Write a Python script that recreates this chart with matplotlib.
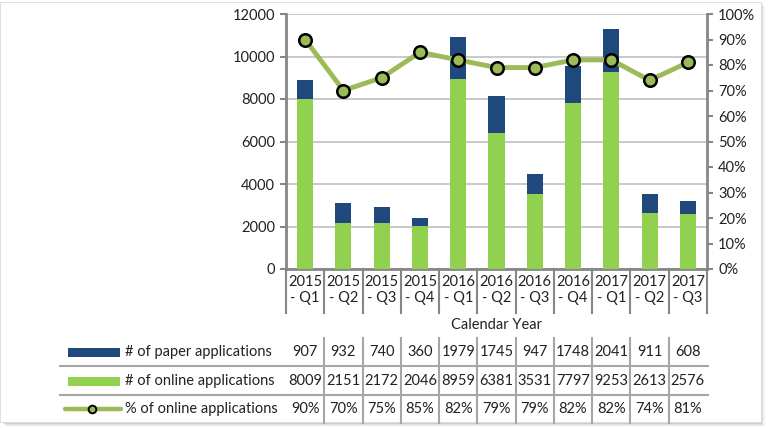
import matplotlib
matplotlib.use("Agg")
import matplotlib.pyplot as plt
import matplotlib.transforms as mtrans
from matplotlib.lines import Line2D
from matplotlib.patches import Rectangle

plt.rcParams['font.family'] = ['Lato', 'DejaVu Sans']

categories = ["2015\n- Q1", "2015\n- Q2", "2015\n- Q3", "2015\n- Q4",
              "2016\n- Q1", "2016\n- Q2", "2016\n- Q3", "2016\n- Q4",
              "2017\n- Q1", "2017\n- Q2", "2017\n- Q3"]
paper = [907, 932, 740, 360, 1979, 1745, 947, 1748, 2041, 911, 608]
online = [8009, 2151, 2172, 2046, 8959, 6381, 3531, 7797, 9253, 2613, 2576]
pct = [90, 70, 75, 85, 82, 79, 79, 82, 82, 74, 81]

W, H = 772, 428
fig = plt.figure(figsize=(W / 100, H / 100), dpi=100)

def fx(px):
    return px / W

def fy(py):
    return 1 - py / H

# frame with shadow
for i, a in enumerate([0.05, 0.08, 0.12, 0.18]):
    off = 4 - i
    fig.patches.append(Rectangle((fx(2 + off), fy(423 + off)), fx(761 - 2), fy(2) - fy(423),
                                 transform=fig.transFigure, facecolor='#808080', alpha=a,
                                 edgecolor='none', zorder=0))
fig.patches.append(Rectangle((fx(0), fy(422)), fx(761), fy(2) - fy(422),
                             transform=fig.transFigure, facecolor='white',
                             edgecolor='#d9d9d9', linewidth=0.6, zorder=0.5))

L, R, T, B = 286, 707, 14, 269
ax = fig.add_axes([fx(L), fy(B), fx(R) - fx(L), fy(T) - fy(B)])
ax.set_zorder(2)
ax.patch.set_alpha(0)

c_paper = '#1F497D'
c_online = '#92D050'
c_line = '#9BBB59'
x = list(range(len(categories)))

ax.bar(x, online, width=0.42, color=c_online, zorder=3)
ax.bar(x, paper, bottom=online, width=0.42, color=c_paper, zorder=3)
ax.set_ylim(0, 12000)
ax.set_xlim(-0.5, len(categories) - 0.5)
ax.set_yticks(range(0, 12001, 2000))
ax.yaxis.grid(True, color='#c0c0c0', linewidth=1.2, zorder=0)
ax.set_axisbelow(True)
for s in ['top', 'right']:
    ax.spines[s].set_visible(False)
for s in ['left', 'bottom']:
    ax.spines[s].set_color('#868686')
    ax.spines[s].set_linewidth(2)
ax.tick_params(axis='y', length=4, width=1.5, color='#868686', labelsize=10.5, pad=4, labelcolor='#222222')
ax.set_xticks(x)
ax.set_xticklabels(categories, fontsize=10.5, linespacing=1.25, color='#222222')
ax.tick_params(axis='x', length=0, pad=4)

ax2 = ax.twinx()
ax2.set_ylim(0, 100)
ax2.set_yticks(range(0, 101, 10))
ax2.set_yticklabels([f"{v}%" for v in range(0, 101, 10)])
for s in ['top', 'left', 'bottom']:
    ax2.spines[s].set_visible(False)
ax2.spines['right'].set_color('#868686')
ax2.spines['right'].set_linewidth(2)
ax2.tick_params(axis='y', length=4, width=1.5, color='#868686', labelsize=10.5, pad=4, labelcolor='#222222')
ax2.plot(x, pct, color=c_line, linewidth=3.5, marker='o', markersize=9,
         markerfacecolor=c_line, markeredgecolor='black', markeredgewidth=1.8, zorder=5)

# category separators under x axis and in table
bt = mtrans.blended_transform_factory(ax.transData, fig.transFigure)
n = len(categories)
for i in range(n + 1):
    xx = i - 0.5
    fig.lines.append(Line2D([xx, xx], [fy(B), fy(313)], transform=bt, color='#868686', linewidth=1.5))
    if 0 < i < n:
        fig.lines.append(Line2D([xx, xx], [fy(338), fy(423)], transform=bt, color='#a6a6a6', linewidth=1.5))

fig.text(fx((L + R) / 2), fy(325), "Calendar Year", ha='center', va='center', fontsize=10.5, color='#222222')

# data table
rows_y = [352, 381, 409]
for ypix in [366, 395]:
    fig.lines.append(Line2D([fx(60), fx(R + 1)], [fy(ypix), fy(ypix)], transform=fig.transFigure,
                            color='#a6a6a6', linewidth=1.5))

labels = ["# of paper applications", "# of online applications", "% of online applications"]
row_vals = [[str(v) for v in paper], [str(v) for v in online], [f"{v}%" for v in pct]]
for r, (lab, vals) in enumerate(zip(labels, row_vals)):
    yy = fy(rows_y[r])
    if r < 2:
        col = c_paper if r == 0 else c_online
        fig.patches.append(Rectangle((fx(68), yy - 4.5 / H), fx(120) - fx(68), 9 / H,
                                     transform=fig.transFigure, facecolor=col, edgecolor='none'))
    else:
        fig.lines.append(Line2D([fx(65), fx(121)], [yy, yy], transform=fig.transFigure,
                                color=c_line, linewidth=3.2, solid_capstyle='round'))
        fig.lines.append(Line2D([fx(92)], [yy], transform=fig.transFigure, marker='o',
                                markersize=5.5, markerfacecolor=c_line, markeredgecolor='black',
                                markeredgewidth=1.4, color=c_line))
    fig.text(fx(125), yy, lab, ha='left', va='center', fontsize=10.5, color='#222222')
    for i, v in enumerate(vals):
        fig.text(i, yy, v, transform=bt, ha='center', va='center', fontsize=10.5, color='#222222')

fig.savefig("out.png", dpi=100)
